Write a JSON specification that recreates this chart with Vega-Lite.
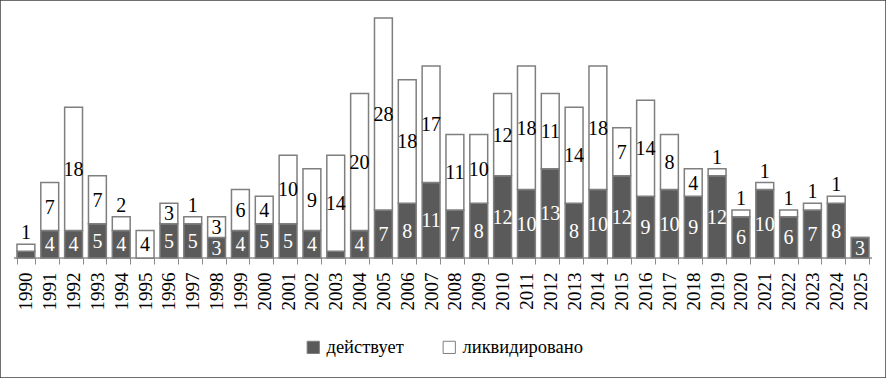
{
  "$schema": "https://vega.github.io/schema/vega-lite/v6.json",
  "width": 886,
  "height": 378,
  "autosize": {"type": "none"},
  "padding": 0,
  "background": "white",
  "config": {
    "view": {"stroke": "#404040", "strokeWidth": 1.5},
    "font": "Liberation Serif"
  },
  "data": {
    "values": [
      {"year": "1990", "status": "действует", "value": 1}, {"year": "1990", "status": "ликвидировано", "value": 1},
      {"year": "1991", "status": "действует", "value": 4}, {"year": "1991", "status": "ликвидировано", "value": 7},
      {"year": "1992", "status": "действует", "value": 4}, {"year": "1992", "status": "ликвидировано", "value": 18},
      {"year": "1993", "status": "действует", "value": 5}, {"year": "1993", "status": "ликвидировано", "value": 7},
      {"year": "1994", "status": "действует", "value": 4}, {"year": "1994", "status": "ликвидировано", "value": 2},
      {"year": "1995", "status": "действует", "value": 0}, {"year": "1995", "status": "ликвидировано", "value": 4},
      {"year": "1996", "status": "действует", "value": 5}, {"year": "1996", "status": "ликвидировано", "value": 3},
      {"year": "1997", "status": "действует", "value": 5}, {"year": "1997", "status": "ликвидировано", "value": 1},
      {"year": "1998", "status": "действует", "value": 3}, {"year": "1998", "status": "ликвидировано", "value": 3},
      {"year": "1999", "status": "действует", "value": 4}, {"year": "1999", "status": "ликвидировано", "value": 6},
      {"year": "2000", "status": "действует", "value": 5}, {"year": "2000", "status": "ликвидировано", "value": 4},
      {"year": "2001", "status": "действует", "value": 5}, {"year": "2001", "status": "ликвидировано", "value": 10},
      {"year": "2002", "status": "действует", "value": 4}, {"year": "2002", "status": "ликвидировано", "value": 9},
      {"year": "2003", "status": "действует", "value": 1}, {"year": "2003", "status": "ликвидировано", "value": 14},
      {"year": "2004", "status": "действует", "value": 4}, {"year": "2004", "status": "ликвидировано", "value": 20},
      {"year": "2005", "status": "действует", "value": 7}, {"year": "2005", "status": "ликвидировано", "value": 28},
      {"year": "2006", "status": "действует", "value": 8}, {"year": "2006", "status": "ликвидировано", "value": 18},
      {"year": "2007", "status": "действует", "value": 11}, {"year": "2007", "status": "ликвидировано", "value": 17},
      {"year": "2008", "status": "действует", "value": 7}, {"year": "2008", "status": "ликвидировано", "value": 11},
      {"year": "2009", "status": "действует", "value": 8}, {"year": "2009", "status": "ликвидировано", "value": 10},
      {"year": "2010", "status": "действует", "value": 12}, {"year": "2010", "status": "ликвидировано", "value": 12},
      {"year": "2011", "status": "действует", "value": 10}, {"year": "2011", "status": "ликвидировано", "value": 18},
      {"year": "2012", "status": "действует", "value": 13}, {"year": "2012", "status": "ликвидировано", "value": 11},
      {"year": "2013", "status": "действует", "value": 8}, {"year": "2013", "status": "ликвидировано", "value": 14},
      {"year": "2014", "status": "действует", "value": 10}, {"year": "2014", "status": "ликвидировано", "value": 18},
      {"year": "2015", "status": "действует", "value": 12}, {"year": "2015", "status": "ликвидировано", "value": 7},
      {"year": "2016", "status": "действует", "value": 9}, {"year": "2016", "status": "ликвидировано", "value": 14},
      {"year": "2017", "status": "действует", "value": 10}, {"year": "2017", "status": "ликвидировано", "value": 8},
      {"year": "2018", "status": "действует", "value": 9}, {"year": "2018", "status": "ликвидировано", "value": 4},
      {"year": "2019", "status": "действует", "value": 12}, {"year": "2019", "status": "ликвидировано", "value": 1},
      {"year": "2020", "status": "действует", "value": 6}, {"year": "2020", "status": "ликвидировано", "value": 1},
      {"year": "2021", "status": "действует", "value": 10}, {"year": "2021", "status": "ликвидировано", "value": 1},
      {"year": "2022", "status": "действует", "value": 6}, {"year": "2022", "status": "ликвидировано", "value": 1},
      {"year": "2023", "status": "действует", "value": 7}, {"year": "2023", "status": "ликвидировано", "value": 1},
      {"year": "2024", "status": "действует", "value": 8}, {"year": "2024", "status": "ликвидировано", "value": 1},
      {"year": "2025", "status": "действует", "value": 3}, {"year": "2025", "status": "ликвидировано", "value": 0}
    ]
  },
  "transform": [
    {"stack": "value", "groupby": ["year"], "sort": [{"field": "status", "order": "ascending"}], "as": ["v0", "v1"]},
    {"calculate": "(datum.v0 + datum.v1) / 2", "as": "mid"}
  ],
  "encoding": {
    "x": {
      "field": "year",
      "type": "ordinal",
      "scale": {"paddingInner": 0.25, "paddingOuter": 0.712},
      "axis": {
        "title": null,
        "offset": -120,
        "domain": false,
        "ticks": true,
        "tickBand": "extent",
        "tickSize": 6,
        "tickColor": "#8c8c8c",
        "tickWidth": 1,
        "labelAngle": 270,
        "labelAlign": "right",
        "labelBaseline": "middle",
        "labelFontSize": 19,
        "labelFont": "Liberation Serif",
        "labelColor": "black",
        "labelPadding": 8
      }
    }
  },
  "layer": [
    {
      "transform": [{"filter": "datum.status === 'действует'"}],
      "mark": {"type": "bar", "fill": null, "fillOpacity": 0, "stroke": "#8c8c8c", "strokeWidth": 1, "width": {"band": 1.3333}},
      "encoding": {
        "y": {"datum": 0, "type": "quantitative", "scale": {"domain": [-17.5, 37.625], "nice": false, "zero": false}, "axis": null},
        "y2": {"datum": 0}
      }
    },
    {
      "mark": {"type": "bar", "stroke": "#7f7f7f", "strokeWidth": 1.5},
      "encoding": {
        "y": {"field": "v1", "type": "quantitative", "scale": {"domain": [-17.5, 37.625], "nice": false, "zero": false}, "axis": null},
        "y2": {"field": "v0"},
        "color": {
          "field": "status",
          "type": "nominal",
          "scale": {"domain": ["действует", "ликвидировано"], "range": ["#5a5a5a", "#ffffff"]},
          "legend": {
            "title": null,
            "orient": "none",
            "legendX": 304,
            "legendY": 338,
            "direction": "horizontal",
            "symbolType": "square",
            "symbolSize": 150,
            "symbolStrokeColor": "#7f7f7f",
            "symbolStrokeWidth": 1,
            "labelFontSize": 18.5,
            "labelFont": "Liberation Serif",
            "labelColor": "black",
            "columnPadding": 36,
            "labelOffset": 4,
            "padding": 0
          }
        }
      }
    },
    {
      "transform": [{"filter": "datum.status === 'действует' && datum.value >= 2"}],
      "mark": {"type": "text", "fill": "white", "fontSize": 20, "font": "Liberation Serif", "baseline": "middle", "dy": 1},
      "encoding": {
        "y": {"field": "mid", "type": "quantitative"},
        "text": {"field": "value", "type": "quantitative"}
      }
    },
    {
      "transform": [{"filter": "datum.status === 'ликвидировано' && datum.value > 2"}],
      "mark": {"type": "text", "fill": "black", "fontSize": 20, "font": "Liberation Serif", "baseline": "middle", "dy": 1},
      "encoding": {
        "y": {"field": "mid", "type": "quantitative"},
        "text": {"field": "value", "type": "quantitative"}
      }
    },
    {
      "transform": [{"filter": "datum.status === 'ликвидировано' && datum.value > 0 && datum.value <= 2"}],
      "mark": {"type": "text", "fill": "black", "fontSize": 20, "font": "Liberation Serif", "baseline": "alphabetic", "dy": -5},
      "encoding": {
        "y": {"field": "v1", "type": "quantitative"},
        "text": {"field": "value", "type": "quantitative"}
      }
    }
  ]
}
